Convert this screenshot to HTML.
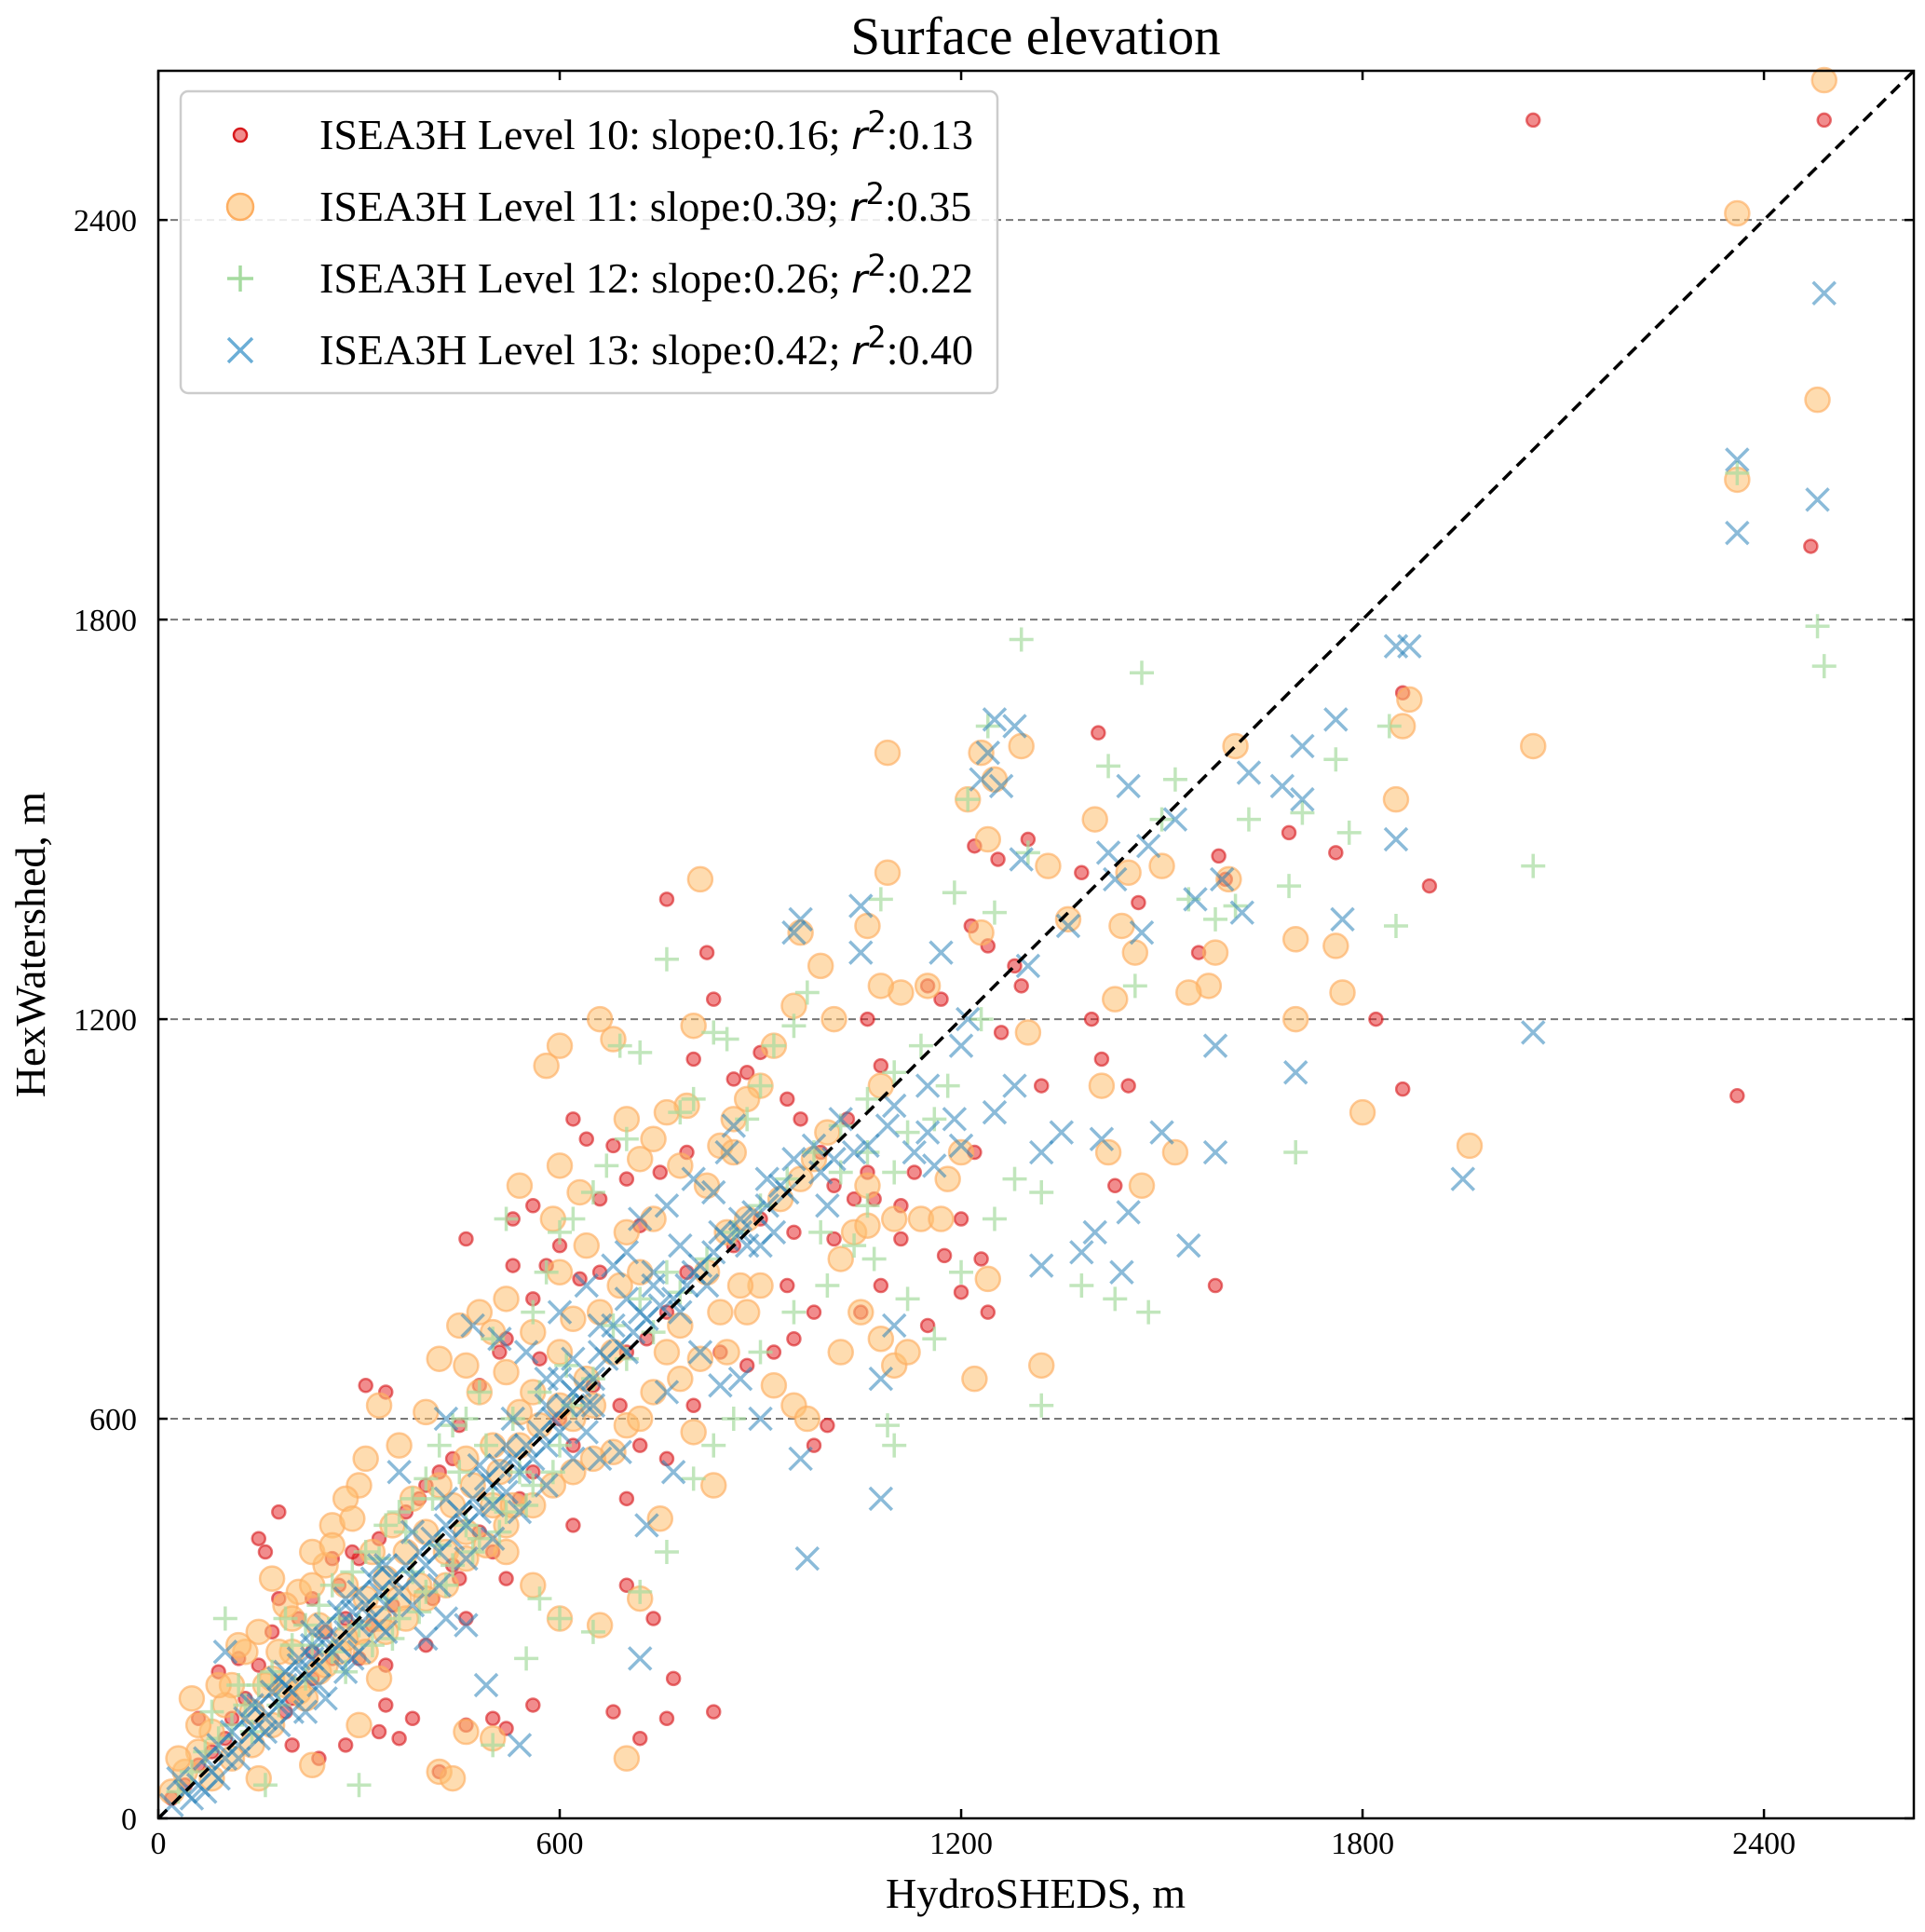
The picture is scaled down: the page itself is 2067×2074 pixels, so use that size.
<!DOCTYPE html>
<html><head><meta charset="utf-8"><style>
html,body{margin:0;padding:0;background:#fff}
svg text{font-family:"Liberation Serif",serif}
</style></head><body>
<svg id="chart" width="2067" height="2069" viewBox="0 0 2067 2069" xmlns="http://www.w3.org/2000/svg">
<rect x="0" y="0" width="2067" height="2069" fill="#fff"/>
<text x="1112" y="58" font-size="57" text-anchor="middle">Surface elevation</text>
<text x="1112" y="2048" font-size="46" text-anchor="middle">HydroSHEDS, m</text>
<text x="48" y="1014" font-size="46" text-anchor="middle" transform="rotate(-90 48 1014)">HexWatershed, m</text>
<g id="grid"></g><g id="marks"></g><g id="axes"></g><g id="legend"></g>
</svg>
<script>
const xTicks=[0,600,1200,1800,2400];
const yTicks=[0,600,1200,1800,2400];
const axisMax=2624;
const level10=[[2055,2550],[2490,2550],[2470,1910],[2360,1085],[1405,1630],[1860,1690],[1900,1400],[1760,1450],[1690,1480],[1820,1200],[1860,1095],[1555,1300],[1585,1445],[1580,800],[1595,1410],[1465,1375],[1450,1100],[1430,950],[1410,1140],[1395,1200],[1380,1420],[1320,1100],[1300,1470],[1255,1440],[1240,1310],[1220,1460],[1215,1340],[1220,1000],[1200,900],[1230,840],[1175,845],[1130,970],[1110,920],[1070,930],[1060,970],[1030,1050],[1010,950],[990,1000],[960,1050],[940,1080],[900,1150],[880,1120],[860,1110],[830,1230],[820,1300],[800,1140],[790,1000],[760,1380],[750,970],[720,890],[700,960],[680,1010],[660,930],[640,1020],[620,1050],[600,860],[580,830],[560,780],[530,830],[510,700],[480,650],[450,590],[440,540],[420,520],[400,500],[390,480],[370,460],[340,640],[330,420],[310,650],[300,390],[290,400],[270,350],[250,280],[230,250],[210,300],[180,330],[170,280],[150,230],[130,180],[110,150],[100,120],[80,100],[60,80],[40,50],[20,30],[180,460],[160,400],[150,420],[190,160],[240,90],[280,110],[330,130],[360,120],[420,70],[460,140],[500,150],[520,135],[560,170],[680,160],[720,120],[760,150],[830,160],[700,350],[740,300],[770,210],[880,680],[920,700],[950,720],[980,560],[1000,590],[1050,760],[1080,800],[1110,870],[1150,740],[1200,790],[1240,760],[1260,1180],[1280,1280],[1290,1250],[1170,1230],[1150,1250],[1060,1200],[1080,1130],[500,400],[540,480],[600,600],[650,650],[700,700],[730,720],[860,860],[900,900],[950,880],[620,560],[560,520],[480,430],[440,380],[350,320],[320,290],[260,240],[230,210],[200,180],[620,440],[700,480],[760,540],[800,620],[840,700],[520,360],[460,300],[400,260],[340,230],[630,810],[660,820],[530,900],[560,920],[460,870],[520,720],[570,690],[690,620],[720,560],[760,760],[790,820],[940,800],[980,760],[1010,870],[1040,930],[60,150],[90,220],[120,240],[200,110],[340,170],[380,150],[300,240],[410,330],[450,360],[230,330],[260,390],[280,300]];
const level11=[[2490,2610],[2360,2410],[2480,2130],[2360,2010],[2055,1610],[1860,1640],[1870,1680],[1850,1530],[1960,1010],[1800,1060],[1770,1240],[1760,1310],[1700,1320],[1700,1200],[1610,1610],[1600,1410],[1580,1300],[1570,1250],[1540,1240],[1520,1000],[1500,1430],[1470,950],[1460,1300],[1450,1420],[1440,1340],[1430,1230],[1420,1000],[1410,1100],[1400,1500],[1360,1350],[1330,1430],[1290,1610],[1250,1560],[1230,1600],[1210,1530],[1240,1470],[1230,1330],[1300,1180],[1320,680],[1220,660],[1240,810],[1200,1000],[1180,960],[1150,1250],[1110,1240],[1090,1600],[1090,1420],[1080,1250],[1060,1340],[1080,1100],[1060,950],[1040,880],[1020,840],[1010,1200],[990,1280],[960,1330],[950,1220],[920,1160],[900,1100],[880,1080],[860,1050],[840,1010],[810,1410],[800,1190],[790,1070],[780,980],[760,1060],[740,1020],[720,990],[700,1050],[680,1170],[660,1200],[630,940],[600,980],[600,1160],[580,1130],[590,900],[540,950],[520,780],[500,730],[480,640],[460,680],[450,740],[420,690],[400,610],[360,560],[330,620],[310,540],[300,500],[280,480],[260,440],[250,380],[230,400],[210,340],[190,320],[170,360],[150,280],[130,250],[110,200],[100,170],[80,130],[60,100],[50,180],[40,70],[20,40],[90,200],[120,260],[150,60],[230,80],[300,140],[330,210],[420,70],[440,60],[460,130],[500,120],[520,400],[560,350],[600,300],[660,290],[700,90],[720,330],[750,450],[800,580],[830,500],[850,700],[880,760],[900,800],[920,650],[950,620],[970,600],[1020,700],[1050,760],[1080,720],[1100,680],[1120,700],[1140,900],[1170,900],[1100,900],[1060,890],[600,700],[620,750],[660,760],[690,800],[720,820],[560,640],[540,610],[500,560],[460,540],[420,500],[380,480],[350,440],[320,400],[280,350],[240,290],[200,250],[170,210],[140,160],[620,600],[650,620],[680,550],[700,590],[740,640],[760,700],[780,740],[820,820],[850,880],[880,900],[930,930],[960,960],[980,990],[1000,1030],[860,1000],[820,950],[500,470],[460,430],[430,400],[390,350],[360,330],[330,300],[300,280],[270,250],[240,220],[210,190],[30,90],[60,140],[80,60],[110,90],[140,110],[170,140],[190,200],[220,180],[250,230],[280,270],[310,330],[340,360],[370,400],[400,430],[440,470],[470,500],[510,520],[540,560],[570,590],[600,620],[640,660],[680,700],[520,440],[490,410],[460,390],[430,350],[400,330],[370,300],[340,280],[310,250],[530,470],[560,470],[590,500],[620,520],[650,540],[720,600],[780,660],[810,690],[840,760],[870,800],[480,760],[520,670],[560,730],[600,820],[640,860],[700,880],[740,900],[200,300],[230,350],[260,410],[290,450],[180,250],[160,200]];
const level12=[[2360,2020],[2480,1790],[2490,1730],[2055,1430],[1850,1340],[1840,1640],[1760,1590],[1780,1480],[1710,1510],[1700,1000],[1690,1400],[1630,1500],[1610,1370],[1580,1350],[1540,1380],[1520,1560],[1500,1500],[1470,1720],[1460,1250],[1420,1580],[1380,800],[1430,780],[1480,760],[1320,620],[1320,940],[1290,1770],[1240,1640],[1250,1360],[1300,1450],[1210,1530],[1230,1200],[1190,1390],[1180,1100],[1160,1050],[1120,1030],[1100,970],[1080,1380],[1060,1000],[1070,840],[1090,590],[1100,560],[1060,920],[1020,970],[990,880],[970,1240],[950,1190],[920,1160],[900,1100],[880,1050],[850,1170],[830,1180],[800,1080],[780,1060],[760,1290],[720,1150],[700,1020],[690,1160],[670,980],[650,940],[620,900],[600,880],[580,820],[560,760],[520,900],[500,720],[480,640],[460,600],[440,590],[420,560],[400,510],[380,480],[360,460],[340,440],[310,400],[290,370],[260,350],[240,320],[220,290],[200,260],[170,220],[150,200],[130,170],[110,140],[100,300],[90,120],[70,100],[50,70],[30,40],[160,50],[300,50],[500,110],[550,240],[570,330],[600,300],[650,280],[720,340],[760,400],[800,510],[830,560],[860,600],[900,700],[950,760],[1000,800],[1040,860],[1120,780],[1160,720],[1200,820],[1250,900],[1280,960],[620,620],[650,660],[700,690],[740,730],[780,790],[820,840],[860,880],[900,920],[940,960],[980,1000],[1020,1040],[1060,1080],[1100,1120],[1140,1160],[540,520],[500,480],[460,440],[420,410],[380,370],[340,330],[300,290],[260,250],[220,210],[180,170],[140,130],[600,560],[560,500],[520,460],[480,420],[440,380],[400,340],[360,300],[320,260],[280,220],[80,160],[120,200],[190,300],[230,260],[270,300],[330,390],[370,430],[410,480],[450,520],[490,560],[530,600],[570,640],[610,680],[680,740],[720,780],[760,820],[350,270],[390,310],[430,350],[470,400],[510,430],[550,470],[590,520]];
const level13=[[2490,2290],[2360,2040],[2480,1980],[2360,1930],[2055,1180],[1950,960],[1870,1760],[1850,1760],[1850,1470],[1770,1350],[1760,1650],[1710,1610],[1710,1530],[1700,1120],[1680,1550],[1630,1570],[1620,1360],[1590,1410],[1580,1160],[1580,1000],[1550,1380],[1540,860],[1520,1500],[1500,1030],[1480,1460],[1470,1330],[1450,1550],[1450,910],[1440,820],[1430,1410],[1420,1450],[1410,1020],[1400,880],[1380,850],[1360,1340],[1350,1030],[1320,1000],[1320,830],[1300,1280],[1290,1440],[1280,1640],[1260,1550],[1250,1650],[1240,1600],[1230,1560],[1210,1200],[1200,1160],[1190,1050],[1170,1300],[1160,980],[1150,1100],[1130,1000],[1100,740],[1090,1040],[1080,660],[1080,480],[1060,1010],[1050,1300],[1050,1370],[1040,1000],[1020,1050],[1000,920],[990,970],[960,1350],[950,1330],[940,940],[920,880],[900,860],[880,860],[860,1040],[850,1000],[840,880],[820,800],[800,960],[780,760],[760,640],[740,800],[720,760],[700,700],[680,740],[660,700],[650,620],[640,580],[620,640],[600,580],[580,560],[560,540],[540,520],[520,490],[500,470],[480,460],[460,440],[440,420],[420,400],[400,380],[380,360],[360,340],[340,320],[320,300],[300,290],[280,280],[260,250],[240,230],[220,210],[200,190],[180,170],[160,150],[140,130],[120,110],[100,90],[80,70],[60,50],[40,40],[20,20],[970,390],[960,540],[900,600],[870,660],[840,650],[810,700],[770,520],[730,440],[720,240],[690,550],[660,540],[640,620],[600,660],[580,620],[520,560],[500,500],[540,110],[490,200],[460,290],[430,300],[400,270],[330,290],[300,250],[280,220],[250,180],[220,160],[180,140],[150,120],[120,90],[90,60],[70,40],[100,250],[360,520],[430,600],[470,740],[510,720],[550,700],[600,760],[640,800],[680,830],[700,850],[720,900],[760,920],[800,820],[830,940],[870,900],[910,960],[950,990],[980,1010],[1010,990],[1100,1070],[1150,1030],[1200,1010],[1250,1060],[1280,1100],[300,340],[320,360],[340,380],[270,310],[250,290],[230,260],[210,240],[190,220],[30,60],[50,30],[70,90],[90,110],[110,130],[130,150],[150,170],[170,190],[190,200],[210,230],[230,240],[250,270],[270,260],[290,310],[310,320],[330,340],[350,360],[370,380],[390,400],[410,420],[430,440],[450,460],[470,480],[490,510],[510,530],[530,540],[550,560],[570,580],[590,600],[610,620],[630,650],[650,660],[670,690],[690,710],[710,730],[730,750],[750,770],[770,780],[790,800],[810,830],[830,850],[850,870],[870,880],[890,910],[910,920],[930,950],[160,130],[200,160],[240,200],[290,240],[340,280],[380,320],[420,350],[460,390],[500,420],[540,460],[580,500],[620,540],[140,170],[180,210],[230,280],[280,330],[330,380],[380,430],[430,480],[480,530],[530,600],[580,660],[620,690],[660,740],[700,780],[740,820],[780,860]];
const legendLabels=["ISEA3H Level 10: slope:0.16; ","ISEA3H Level 11: slope:0.39; ","ISEA3H Level 12: slope:0.26; ","ISEA3H Level 13: slope:0.42; "];
const legendR2=[":0.13",":0.35",":0.22",":0.40"];

const L=170,R=2055,T=76,B=1952;
const sx=v=>L+(v/axisMax)*(R-L);
const sy=v=>B-(v/axisMax)*(B-T);
const NS="http://www.w3.org/2000/svg";
function mk(tag,attrs,parent){const e=document.createElementNS(NS,tag);for(const k in attrs)e.setAttribute(k,attrs[k]);parent.appendChild(e);return e;}
const grid=document.getElementById('grid'),marks=document.getElementById('marks'),axes=document.getElementById('axes'),leg=document.getElementById('legend');

yTicks.forEach(t=>{if(t===0)return;
 const g=mk('line',{x1:L,x2:R,y1:sy(t),y2:sy(t),stroke:'#777','stroke-width':2,'stroke-dasharray':'8,5'},grid);
 
 
});

function circle(p,r,fill,stroke,op,name){const c=mk('circle',{cx:sx(p[0]),cy:sy(p[1]),r:r,fill:fill,stroke:stroke,'stroke-width':2.5,'fill-opacity':op,'stroke-opacity':op+0.1},marks);
 
 }
function plus(p,s,color,op,parent){const x=sx(p[0]),y=sy(p[1]);
 const e=mk('path',{d:`M${x-s} ${y}H${x+s}M${x} ${y-s}V${y+s}`,stroke:color,'stroke-width':3.5,'stroke-opacity':op,fill:'none'},parent);
 
 }
function cross(p,s,color,op,parent){const x=sx(p[0]),y=sy(p[1]);
 const e=mk('path',{d:`M${x-s} ${y-s}L${x+s} ${y+s}M${x-s} ${y+s}L${x+s} ${y-s}`,stroke:color,'stroke-width':3.5,'stroke-opacity':op,fill:'none'},parent);
 
 }

level10.forEach(p=>circle(p,7,'#e41a1c','#d7191c',0.5,'level10-point'));
level11.forEach(p=>circle(p,13,'#fdbf6f','#fdae61',0.55,'level11-point'));
level12.forEach(p=>plus(p,13,'#a6dba0',0.7,marks));
level13.forEach(p=>cross(p,12,'#2b83ba',0.55,marks));

const diag=mk('line',{x1:sx(0),y1:sy(0),x2:sx(axisMax),y2:sy(axisMax),stroke:'#000','stroke-width':3.5,'stroke-dasharray':'13,8'},axes);



const frame=mk('rect',{x:L,y:T,width:R-L,height:B-T,fill:'none',stroke:'#000','stroke-width':2.5},axes);



xTicks.forEach(t=>{const x=sx(t);
 mk('line',{x1:x,x2:x,y1:B,y2:B-10,stroke:'#000','stroke-width':2.5},axes);
 mk('line',{x1:x,x2:x,y1:T,y2:T+10,stroke:'#000','stroke-width':2.5},axes);
 const tx=mk('text',{x:x,y:1990,'font-size':34,'text-anchor':'middle'},axes);tx.textContent=t;
 
 
});
yTicks.forEach(t=>{const y=sy(t);
 mk('line',{x1:L,x2:L+10,y1:y,y2:y,stroke:'#000','stroke-width':2.5},axes);
 mk('line',{x1:R,x2:R-10,y1:y,y2:y,stroke:'#000','stroke-width':2.5},axes);
 const tx=mk('text',{x:147,y:y+12,'font-size':34,'text-anchor':'end'},axes);tx.textContent=t;
 
 
});

const box=mk('rect',{x:194,y:98,width:877,height:324,rx:8,fill:'#fff','fill-opacity':0.85,stroke:'#ccc','stroke-width':2.5},leg);


const rows=[160,237,314,391];
rows.forEach((yb,i)=>{const cy=yb-15,cx=258;
 if(i===0){const c=mk('circle',{cx:cx,cy:cy,r:7,fill:'#e41a1c','fill-opacity':0.5,stroke:'#d7191c','stroke-width':2.5},leg);}
 if(i===1){const c=mk('circle',{cx:cx,cy:cy,r:14,fill:'#fdbf6f','fill-opacity':0.6,stroke:'#fdae61','stroke-width':2.5},leg);}
 if(i===2){const e=mk('path',{d:`M${cx-14} ${cy}H${cx+14}M${cx} ${cy-14}V${cy+14}`,stroke:'#a6dba0','stroke-width':3.5,fill:'none'},leg);}
 if(i===3){const e=mk('path',{d:`M${cx-13} ${cy-13}L${cx+13} ${cy+13}M${cx-13} ${cy+13}L${cx+13} ${cy-13}`,stroke:'#6baed6','stroke-width':3.5,fill:'none'},leg);}
 const tx=mk('text',{x:343,y:yb,'font-size':46},leg);
 
 
 const a=document.createElementNS(NS,'tspan');a.textContent=legendLabels[i];tx.appendChild(a);
 const r=document.createElementNS(NS,'tspan');r.setAttribute('font-style','italic');r.setAttribute('font-family','DejaVu Sans, sans-serif');r.setAttribute('font-size','42');r.textContent='r';tx.appendChild(r);
 const s=document.createElementNS(NS,'tspan');s.setAttribute('dy','-18');s.setAttribute('font-size','32');s.setAttribute('font-family','DejaVu Sans, sans-serif');s.textContent='2';tx.appendChild(s);
 const v=document.createElementNS(NS,'tspan');v.setAttribute('dy','18');v.textContent=legendR2[i];tx.appendChild(v);
});
</script>
</body></html>
